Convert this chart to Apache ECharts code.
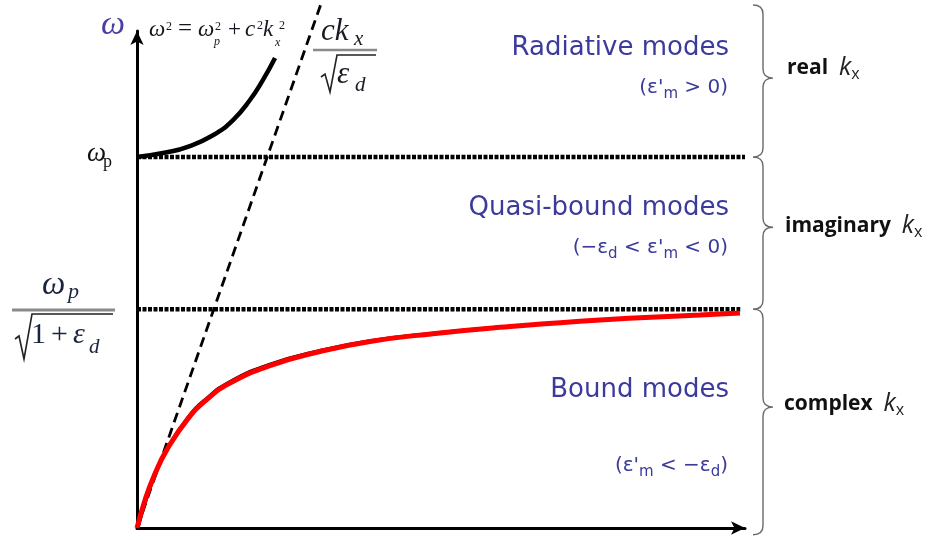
<!DOCTYPE html>
<html>
<head>
<meta charset="utf-8">
<script src="https://cdn.jsdelivr.net/npm/echarts@6/dist/echarts.min.js"></script>
<style>
  html, body { margin: 0; padding: 0; background: #fff; }
  #chart { width: 930px; height: 540px; }
</style>
</head>
<body>
<div id="chart"></div>
<script>
// axis extents (kx in arbitrary units, omega in units of omega_p)
var X_MAX = 6.4;
var Y_MAX = 1.34;

// horizontal levels: omega_p and omega_p / sqrt(1 + eps_d)
var plasmaLevel = [[0, 1.0], [6.4, 1.0]];
var surfaceLevel = [[0, 0.59], [6.35, 0.59]];

// light line in the dielectric
var lightLine = [[0, 0], [1.95, 1.423]];

// bulk plasmon branch, above omega_p
var bulkCurve = [[0, 1.0], [0.316, 1.013], [0.526, 1.027], [0.8, 1.059],
  [1.011, 1.1], [1.189, 1.154], [1.326, 1.208], [1.453, 1.267]];

// surface plasmon branch (red) and the black line just under it
var boundCurve = [[0, 0], [0.084, 0.075], [0.189, 0.146], [0.316, 0.212],
  [0.537, 0.295], [0.737, 0.347], [0.979, 0.391], [1.4, 0.438], [1.926, 0.476],
  [2.453, 0.503], [3.116, 0.524], [3.821, 0.541], [4.874, 0.561], [5.926, 0.574],
  [6.347, 0.58]];
var boundEdge = [[0.012, 0], [0.096, 0.075], [0.2, 0.148], [0.325, 0.215],
  [0.537, 0.299], [0.737, 0.351], [0.979, 0.395], [1.4, 0.442], [1.926, 0.479],
  [2.453, 0.505], [3.116, 0.525], [3.821, 0.542], [4.874, 0.561]];

// braces on the right: [top, bottom, tip]
var braceSpans = [[1.41, 1.0, 1.213], [1.0, 0.59, 0.811], [0.59, -0.018, 0.326]];

var modeTitles = ['Radiative modes', 'Quasi-bound modes', 'Bound modes'];
var modeConditions = [
  "{t|(ε'}{s|m}{t| > 0)}",
  "{t|(−ε}{s|d}{t| < ε'}{s|m}{t| < 0)}",
  "{t|(ε'}{s|m}{t| < −ε}{s|d}{t|)}"
];
var braceWords = ['real', 'imaginary', 'complex'];

var SERIF = '"Liberation Serif", "Times New Roman", serif';
var MODE_COLOR = '#3b3b9b';

// serif math glyph, placed by its baseline
function mathText(text, x, base, size, color, italic) {
  return {
    type: 'text', silent: true,
    style: {
      text: text, x: x, y: base - 0.34 * size,
      font: (italic === false ? '' : 'italic ') + size + 'px ' + SERIF,
      fill: color || '#111', align: 'left', verticalAlign: 'middle'
    }
  };
}

function rule(x1, y1, x2, y2, color, w) {
  return {
    type: 'line', silent: true,
    shape: { x1: x1, y1: y1, x2: x2, y2: y2 },
    style: { stroke: color, lineWidth: w }
  };
}

function radical(pts, color) {
  return {
    type: 'polyline', silent: true,
    shape: { points: pts },
    style: { stroke: color, lineWidth: 1.6, fill: null }
  };
}

var graphics = [];

// omega axis name
graphics.push(mathText('ω', 101, 37, 34, '#4b3fa6'));

// omega^2 = omega_p^2 + c^2 kx^2
var EQ = '#15151f';
graphics.push(mathText('ω', 149, 38, 23, EQ));
graphics.push(mathText('2', 166, 31, 12, EQ, false));
graphics.push(mathText('=', 178, 38, 25, EQ, false));
graphics.push(mathText('ω', 198, 38, 23, EQ));
graphics.push(mathText('2', 215, 31, 12, EQ, false));
graphics.push(mathText('p', 214, 46, 12, EQ));
graphics.push(mathText('+', 228, 38, 23, EQ, false));
graphics.push(mathText('c', 245, 38, 23, EQ));
graphics.push(mathText('2', 257, 30, 12, EQ, false));
graphics.push(mathText('k', 263, 38, 23, EQ));
graphics.push(mathText('2', 279, 30, 12, EQ, false));
graphics.push(mathText('x', 275, 47, 12, EQ));

// ck_x / sqrt(eps_d)
graphics.push(mathText('ck', 321, 42, 31, '#1a1a22'));
graphics.push(mathText('x', 354, 47, 21, '#1a1a22'));
graphics.push(rule(313, 50, 377, 50, '#8a8a8a', 2.5));
graphics.push(radical([[321, 77], [325, 74], [330, 92], [337, 55], [376, 55]], '#222'));
graphics.push(mathText('ε', 337, 85, 31, '#1a1a22'));
graphics.push(mathText('d', 355, 93, 21, '#1a1a22'));

// omega_p tick label
graphics.push(mathText('ω', 87, 163, 27, '#111'));
graphics.push(mathText('p', 103, 168, 18, '#111', false));

// omega_p / sqrt(1 + eps_d)
var FR = '#1a2440';
graphics.push(mathText('ω', 42, 297, 33, FR));
graphics.push(mathText('p', 68, 300, 22, FR));
graphics.push(rule(12, 310, 115, 310, '#8a8a8a', 3));
graphics.push(radical([[15, 339], [19, 336], [24, 359], [32, 314], [113, 314]], '#222'));
graphics.push(mathText('1', 31, 345, 30, FR, false));
graphics.push(mathText('+', 51, 345, 30, FR, false));
graphics.push(mathText('ε', 73, 345, 30, FR));
graphics.push(mathText('d', 89, 355, 21, FR));

// mode titles and conditions
var titleY = [48, 208, 390];
var condY = [88, 248, 466];
for (var i = 0; i < modeTitles.length; i++) {
  graphics.push({
    type: 'text', silent: true,
    style: {
      text: modeTitles[i], x: 729, y: titleY[i],
      font: '26px "DejaVu Sans", Verdana, sans-serif',
      fill: MODE_COLOR, align: 'right', verticalAlign: 'middle'
    }
  });
  graphics.push({
    type: 'text', silent: true,
    style: {
      text: modeConditions[i], x: 728, y: condY[i],
      align: 'right', verticalAlign: 'middle',
      rich: {
        t: { fontFamily: 'DejaVu Sans', fontSize: 20, fill: MODE_COLOR, lineHeight: 28 },
        s: { fontFamily: 'DejaVu Sans', fontSize: 15, fill: MODE_COLOR, lineHeight: 14, verticalAlign: 'bottom' }
      }
    }
  });
}

// brace labels
var wordY = [68, 226, 404];
var wordX = [787, 785, 784];
for (var j = 0; j < braceWords.length; j++) {
  graphics.push({
    type: 'text', silent: true,
    style: {
      text: '{b|' + braceWords[j] + '  }{k|k}{x|x}', x: wordX[j], y: wordY[j],
      align: 'left', verticalAlign: 'middle',
      rich: {
        b: { fontFamily: 'Open Sans', fontWeight: 'bold', fontSize: 21, fill: '#111', lineHeight: 28 },
        k: { fontFamily: 'Open Sans', fontStyle: 'italic', fontSize: 25, fill: '#222', lineHeight: 28 },
        x: { fontFamily: 'Open Sans', fontSize: 16, fill: '#222', lineHeight: 15, verticalAlign: 'bottom' }
      }
    }
  });
}

var chart = echarts.init(document.getElementById('chart'));

var axisCommon = {
  type: 'value',
  axisLine: {
    show: true, onZero: false,
    symbol: ['none', 'arrow'], symbolSize: [10, 14],
    lineStyle: { color: '#000', width: 3 }
  },
  axisTick: { show: false },
  axisLabel: { show: false },
  splitLine: { show: false }
};

function lineSeries(data, color, width, type, extra) {
  var s = {
    type: 'line', data: data, symbol: 'none', silent: true,
    lineStyle: { color: color, width: width, type: type || 'solid', cap: 'butt' },
    z: 3
  };
  for (var k in extra) s[k] = extra[k];
  return s;
}

var option = {
  backgroundColor: '#fff',
  animation: false,
  grid: { left: 137, width: 608, top: 31, height: 497 },
  xAxis: Object.assign({}, axisCommon, { min: 0, max: X_MAX }),
  yAxis: Object.assign({}, axisCommon, { min: 0, max: Y_MAX }),
  series: [
    lineSeries(plasmaLevel, '#000', 4.5, [4, 1.5]),
    lineSeries(surfaceLevel, '#000', 4.5, [4, 1.5]),
    lineSeries(lightLine, '#000', 2.8, [10, 6], { clip: false }),
    lineSeries(bulkCurve, '#000', 4.5, 'solid', { smooth: 0.5 }),
    lineSeries(boundEdge, '#000', 3, 'solid', { smooth: 0.5, z: 4 }),
    lineSeries(boundCurve, '#ff0000', 5, 'solid', { smooth: 0.5, z: 5 }),
    {
      type: 'custom', silent: true, clip: false,
      data: braceSpans,
      renderItem: function (params, api) {
        var top = api.coord([X_MAX, api.value(0)]);
        var bot = api.coord([X_MAX, api.value(1)]);
        var tip = api.coord([X_MAX, api.value(2)]);
        var x0 = top[0] + 8, x1 = top[0] + 18, x2 = top[0] + 28, r = 9;
        var d = 'M' + x0 + ' ' + top[1] +
          ' Q' + x1 + ' ' + top[1] + ' ' + x1 + ' ' + (top[1] + r) +
          ' L' + x1 + ' ' + (tip[1] - r) +
          ' Q' + x1 + ' ' + tip[1] + ' ' + x2 + ' ' + tip[1] +
          ' Q' + x1 + ' ' + tip[1] + ' ' + x1 + ' ' + (tip[1] + r) +
          ' L' + x1 + ' ' + (bot[1] - r) +
          ' Q' + x1 + ' ' + bot[1] + ' ' + x0 + ' ' + bot[1];
        return {
          type: 'path',
          shape: { pathData: d },
          style: { fill: 'none', stroke: '#6a6a6a', lineWidth: 1.4 }
        };
      }
    }
  ],
  graphic: graphics
};

chart.setOption(option);
</script>
</body>
</html>
